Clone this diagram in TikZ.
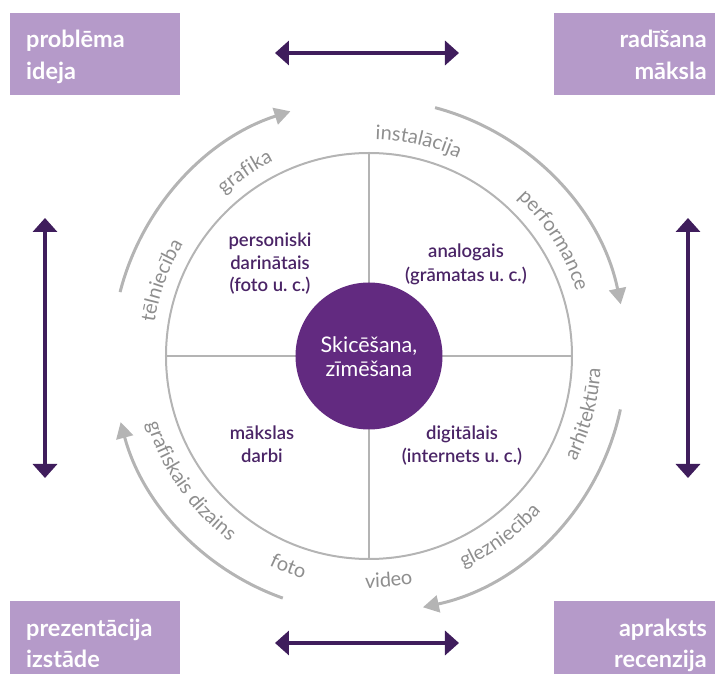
\documentclass[tikz,border=0pt]{standalone}
\usepackage{fontspec}
\setmainfont{Lato}
\newfontfamily\latosemi{Lato Semibold}
\usetikzlibrary{arrows.meta,decorations.text}
\definecolor{boxfill}{HTML}{B59AC9}
\definecolor{dpurple}{HTML}{3F1D5C}
\definecolor{cpurple}{HTML}{622A80}
\definecolor{qpurple}{HTML}{4A2466}
\definecolor{lgray}{HTML}{B4B4B4}
\definecolor{tgray}{HTML}{8E8E8E}
\newcommand{\arcfont}{\fontsize{20}{20}\selectfont\color{tgray}}
\frenchspacing
\begin{document}
\begin{tikzpicture}[x=1pt,y=1pt,
  box/.style={fill=boxfill,draw=none,inner sep=0,anchor=north west},
  boxtext/.style={font=\bfseries\fontsize{23.5}{23.5}\selectfont,text=white,inner sep=0},
  qtext/.style={font=\latosemi\fontsize{18.5}{18.5}\selectfont\frenchspacing,text=qpurple,inner sep=0,anchor=base},
  ctext/.style={font=\fontsize{21.5}{21.5}\selectfont,text=white,inner sep=0,anchor=base},
  biarrow/.style={draw=dpurple,line width=4pt,{Triangle[length=14pt,width=24pt]}-{Triangle[length=14pt,width=24pt]}},
  arcarrow/.style={draw=lgray,line width=3pt,-{Triangle[length=16pt,width=17pt]}},
  upperlabel/.style 2 args={decorate,decoration={text along path,text align=center,text={|\arcfont|#2}},
     insert path={(#1+50:217) arc[start angle=#1+50,end angle=#1-50,radius=217]}},
  lowerlabel/.style 2 args={decorate,decoration={text along path,text align=center,text={|\arcfont|#2}},
     insert path={(#1-50:232) arc[start angle=#1-50,end angle=#1+50,radius=232]}}
]
\useasboundingbox (-369,-318) rectangle (346,356);

% corner boxes
\node[box,minimum width=170pt,minimum height=82pt] (bTL) at (-359,343) {};
\node[box,minimum width=161pt,minimum height=82pt] (bTR) at (185,343) {};
\node[box,minimum width=170pt,minimum height=73pt] (bBL) at (-359,-245) {};
\node[box,minimum width=161pt,minimum height=73pt] (bBR) at (185,-245) {};

\node[boxtext,anchor=base west] (tTL1) at (-343,308) {problēma};
\node[boxtext,anchor=base west] (tTL2) at (-343,276) {ideja};
\node[boxtext,anchor=base east] (tTR1) at (338,308) {radīšana};
\node[boxtext,anchor=base east] (tTR2) at (338,276) {māksla};
\node[boxtext,anchor=base west] (tBL1) at (-343,-280) {prezentācija};
\node[boxtext,anchor=base west] (tBL2) at (-343,-311) {izstāde};
\node[boxtext,anchor=base east] (tBR1) at (338,-280) {apraksts};
\node[boxtext,anchor=base east] (tBR2) at (338,-311) {recenzija};

% double arrows
\coordinate (hTa) at (-94,303);
\coordinate (hTb) at (90,303);
\coordinate (hBa) at (-94,-287);
\coordinate (hBb) at (90,-287);
\coordinate (vLa) at (-324,138);
\coordinate (vLb) at (-324,-122);
\coordinate (vRa) at (319,138);
\coordinate (vRb) at (319,-122);
\draw[biarrow] (hTa) -- (hTb);
\draw[biarrow] (hBa) -- (hBb);
\draw[biarrow] (vLa) -- (vLb);
\draw[biarrow] (vRa) -- (vRb);

% ring and cross
\node[circle,draw=lgray,line width=2pt,minimum size=406pt,inner sep=0] (ring) at (0,0) {};
\draw[lgray,line width=2pt] (ring.north) -- (ring.south);
\draw[lgray,line width=2pt] (ring.west) -- (ring.east);
\node[circle,fill=cpurple,minimum size=147pt,inner sep=0] (core) at (0,0) {};
\node[ctext] (c1) at (0,3) {Skicēšana,};
\node[ctext] (c2) at (0,-21) {zīmēšana};

% quadrant labels
\node[qtext] (q11) at (-99,109) {personiski};
\node[qtext] (q12) at (-99,86) {darinātais};
\node[qtext] (q13) at (-99,64) {(foto u. c.)};
\node[qtext] (q21) at (97,98) {analogais};
\node[qtext] (q22) at (97,74) {(grāmatas u. c.)};
\node[qtext] (q31) at (-107,-84) {mākslas};
\node[qtext] (q32) at (-107,-107) {darbi};
\node[qtext] (q41) at (93,-84) {digitālais};
\node[qtext] (q42) at (93,-107) {(internets u. c.)};

% outer arc arrows
\coordinate (aTL) at (165.6:257);
\coordinate (aTR) at (75.1:257);
\coordinate (aBR) at (-12:257);
\coordinate (aBL) at (-109.6:257);
\draw[arcarrow] (aTL) arc[start angle=165.6,end angle=107.8,radius=257];
\draw[arcarrow] (aTR) arc[start angle=75.1,end angle=11.6,radius=257];
\draw[arcarrow] (aBR) arc[start angle=-12,end angle=-77.9,radius=257];
\draw[arcarrow] (aBL) arc[start angle=-109.6,end angle=-165.1,radius=257];

% arc labels
\path[upperlabel={160}{tēlniecība}];
\path[upperlabel={124}{grafika}];
\path[upperlabel={77}{instalācija}];
\path[upperlabel={32}{performance}];
\path[lowerlabel={-15}{arhitektūra}];
\path[lowerlabel={-54}{glezniecība}];
\path[lowerlabel={-85}{video}];
\path[lowerlabel={-111}{foto}];
\path[lowerlabel={-145}{grafiskais dizains}];
\end{tikzpicture}
\end{document}
